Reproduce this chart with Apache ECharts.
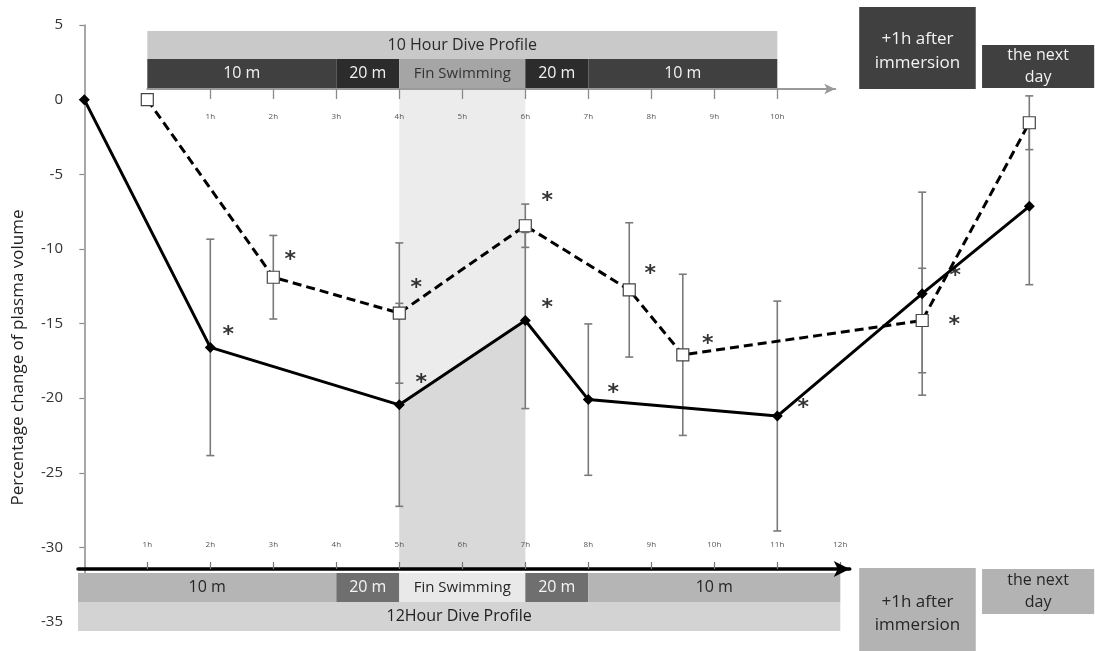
<!DOCTYPE html>
<html>
<head>
<meta charset="utf-8">
<script src="https://cdn.jsdelivr.net/npm/echarts@6/dist/echarts.min.js"></script>
<style>
  html, body { margin: 0; padding: 0; background: #ffffff; }
  #chart { width: 1095px; height: 651px; }
</style>
</head>
<body>
<div id="chart"></div>
<script>
// ---- Data -------------------------------------------------------------
// Positions are hours along the 12-hour dive timeline; the 10-hour dive
// starts one hour into it. The last two points are the post-dive samples.
const TIME_12H = [0, 2, 5, 7, 8, 11, 13.3, 15];
const MEAN_12H = [0, -16.6, -20.45, -14.8, -20.1, -21.2, -13.0, -7.15];
const SD_12H   = [0, 7.25, 6.8, 5.9, 5.07, 7.7, 6.8, 5.25];
const SIG_12H  = [0, 1, 1, 1, 1, 1, 1, 0];

const TIME_10H = [1, 3, 5, 7, 8.65, 9.5, 13.3, 15];
const MEAN_10H = [0, -11.9, -14.3, -8.45, -12.75, -17.1, -14.8, -1.55];
const SD_10H   = [0, 2.8, 4.7, 1.45, 4.5, 5.4, 3.5, 1.8];
const SIG_10H  = [0, 1, 1, 1, 1, 1, 1, 0];

// Dive stages (depth / activity) for each profile
const STAGE_NAMES     = ['10 m', '20 m', 'Fin Swimming', '20 m', '10 m'];
const STAGE_START_12H = [0, 4, 5, 7, 8];
const STAGE_END_12H   = [4, 5, 7, 8, 12];
const STAGE_START_10H = [0, 3, 4, 6, 7];
const STAGE_END_10H   = [3, 4, 6, 7, 10];
const DIVE_10H_OFFSET = 1;

const PROFILE_TITLES = ['10 Hour Dive Profile', '12Hour Dive Profile'];
const PROFILE_HOURS  = [10, 12];

const TICKS_10H = [1, 2, 3, 4, 5, 6, 7, 8, 9, 10];
const TICKS_12H = [1, 2, 3, 4, 5, 6, 7, 8, 9, 10, 11, 12];

const POST_NAMES = ['+1h after\nimmersion', 'the next\nday'];
const POST_START = [12.3, 14.25];
const POST_END   = [14.15, 16.03];

const Y_TICKS = { min: -35, max: 5, step: 5 };
const Y_NAME = 'Percentage change of plasma volume';

// ---- Layout & style ---------------------------------------------------
const FONT_FAMILY = "'Open Sans', 'Noto Sans', sans-serif";
const LAYOUT = {
  left: 78, top: 25, bottom: 29,
  pxPerHour: 63, xMin: -0.1, xMax: 15.6,
  topAxisY: 89, bottomAxisY: 569,
  bottomAxisMax: 12.15, topAxisMax: 10.92
};
const TOP_ROWS = { title: [31, 59], stage: [59, 88], post: [[7, 89], [45, 88]] };
const BOTTOM_ROWS = { stage: [573, 602], title: [602, 631], post: [[568, 660], [569, 614]] };
const STAGE_FONT = [16, 16, 15, 16, 16];
const POST_FONT = [17, 16];
const STAGE_FILL_TOP = ['#404040', '#2c2c2c', '#a5a5a5', '#2c2c2c', '#404040'];
const STAGE_TEXT_TOP = ['#f2f2f2', '#f2f2f2', '#333333', '#f2f2f2', '#f2f2f2'];
const STAGE_FILL_BOTTOM = ['#b5b5b5', '#6f6f6f', '#e9e9e9', '#6f6f6f', '#b5b5b5'];
const STAGE_TEXT_BOTTOM = ['#262626', '#f5f5f5', '#262626', '#f5f5f5', '#262626'];
// asterisk offsets (px) from their data point
const STAR_OFFSET_12H = [null, [18, -17], [22, -27], [22, -17], [25, -11], [26, -13], [33, -22], null];
const STAR_OFFSET_10H = [null, [17, -22], [17, -30], [22, -29], [21, -21], [25, -16], [32, 0], null];
const STAR_GLYPH_DY = 5;

// ---- Helpers ----------------------------------------------------------
const mainWidth = (LAYOUT.xMax - LAYOUT.xMin) * LAYOUT.pxPerHour;
const gridLeftFor = (hour) => LAYOUT.left + (hour - LAYOUT.xMin) * LAYOUT.pxPerHour;
const pick = (v, i) => (Array.isArray(v) ? v[i] : v);

// Labelled boxes spanning [start, end] hours; a span starting at hour 0
// (or earlier) is drawn from the y axis.
function boxSeries(name, starts, ends, texts, rows, fills, colors, fontSize, lineHeight, textDy) {
  return {
    type: 'custom', name, xAxisIndex: 0, yAxisIndex: 0, clip: false, silent: true, z: 3,
    data: starts.map((s, i) => [s, ends[i]]),
    renderItem(params, api) {
      const i = params.dataIndex;
      const cs = params.coordSys;
      const xa = api.value(0) <= 0 ? cs.x : api.coord([api.value(0), 0])[0];
      const xb = api.coord([api.value(1), 0])[0];
      const row = Array.isArray(rows[0]) ? rows[i] : rows;
      const fs = pick(fontSize, i);
      const lh = pick(lineHeight, i) || Math.round(fs * 1.35);
      return {
        type: 'rect',
        shape: { x: xa, y: row[0], width: xb - xa, height: row[1] - row[0] },
        style: { fill: pick(fills, i) },
        textContent: {
          style: {
            text: texts[i], fill: pick(colors, i), fontSize: fs, fontFamily: FONT_FAMILY,
            align: 'center', verticalAlign: 'middle', lineHeight: lh
          }
        },
        textConfig: { position: 'inside', offset: [0, pick(textDy, i) || 0] }
      };
    }
  };
}

function errorBarSeries(times, means, sds, z) {
  const data = [];
  times.forEach((t, i) => { if (sds[i] > 0) data.push([t, means[i] - sds[i], means[i] + sds[i]]); });
  return {
    type: 'custom', silent: true, z, clip: false, data,
    renderItem(params, api) {
      const lo = api.coord([api.value(0), api.value(1)]);
      const hi = api.coord([api.value(0), api.value(2)]);
      const w = 4;
      const st = { stroke: '#7a7a7a', lineWidth: 1.6 };
      return {
        type: 'group',
        children: [
          { type: 'line', shape: { x1: lo[0], y1: lo[1], x2: hi[0], y2: hi[1] }, style: st },
          { type: 'line', shape: { x1: lo[0] - w, y1: lo[1], x2: lo[0] + w, y2: lo[1] }, style: st },
          { type: 'line', shape: { x1: hi[0] - w, y1: hi[1], x2: hi[0] + w, y2: hi[1] }, style: st }
        ]
      };
    }
  };
}

function starData(times, means, sig, offsets) {
  const out = [];
  times.forEach((t, i) => {
    if (!sig[i]) return;
    const o = offsets[i];
    out.push({ value: [t, means[i]], label: { offset: [o[0], o[1] + STAR_GLYPH_DY] } });
  });
  return out;
}

const finStart = STAGE_START_12H[2];
const finEnd = STAGE_END_12H[2];
const stageStart10 = STAGE_START_10H.map(h => h + DIVE_10H_OFFSET);
const stageEnd10 = STAGE_END_10H.map(h => h + DIVE_10H_OFFSET);

// ---- Chart ------------------------------------------------------------
const chart = echarts.init(document.getElementById('chart'), null, { renderer: 'canvas' });

const option = {
  animation: false,
  backgroundColor: '#ffffff',
  textStyle: { fontFamily: FONT_FAMILY },
  grid: [
    { left: LAYOUT.left, top: LAYOUT.top, width: mainWidth, height: 651 - LAYOUT.top - LAYOUT.bottom,
      containLabel: false, outerBoundsMode: 'none' },
    { left: gridLeftFor(LAYOUT.xMin), top: LAYOUT.bottomAxisY - 10, height: 10,
      width: (LAYOUT.bottomAxisMax - LAYOUT.xMin) * LAYOUT.pxPerHour,
      containLabel: false, outerBoundsMode: 'none' },
    { left: gridLeftFor(DIVE_10H_OFFSET), top: LAYOUT.topAxisY - 10, height: 10,
      width: LAYOUT.topAxisMax * LAYOUT.pxPerHour,
      containLabel: false, outerBoundsMode: 'none' }
  ],
  xAxis: [
    { gridIndex: 0, type: 'value', min: LAYOUT.xMin, max: LAYOUT.xMax, show: false },
    {
      gridIndex: 1, type: 'value', min: LAYOUT.xMin, max: LAYOUT.bottomAxisMax, position: 'bottom', z: 10,
      axisLine: { show: true, lineStyle: { color: '#000000', width: 3.5 }, symbol: ['none', 'arrow'], symbolSize: [12, 16] },
      axisTick: { show: true, inside: true, length: 7, lineStyle: { color: '#777777', width: 1.2 }, customValues: TICKS_12H },
      axisLabel: { show: true, inside: true, margin: 20, fontSize: 8, color: '#555555', customValues: TICKS_12H,
        formatter: v => v + 'h' },
      splitLine: { show: false }
    },
    {
      gridIndex: 2, type: 'value', min: 0, max: LAYOUT.topAxisMax, position: 'bottom', z: 10,
      axisLine: { show: true, lineStyle: { color: '#9a9a9a', width: 2 }, symbol: ['none', 'arrow'], symbolSize: [8, 11] },
      axisTick: { show: true, inside: false, length: 10, lineStyle: { color: '#8a8a8a', width: 1.3 }, customValues: TICKS_10H },
      axisLabel: { show: true, margin: 24, fontSize: 8, color: '#555555', customValues: TICKS_10H,
        formatter: v => v + 'h' },
      splitLine: { show: false }
    }
  ],
  yAxis: [
    {
      gridIndex: 0, type: 'value', min: Y_TICKS.min, max: Y_TICKS.max, interval: Y_TICKS.step,
      name: Y_NAME, nameLocation: 'middle', nameGap: 51, nameRotate: 90,
      nameTextStyle: { fontSize: 17, color: '#222222', padding: [0, 68, 0, 0] },
      axisLine: { show: true, lineStyle: { color: '#8a8a8a', width: 1.5 } },
      axisTick: { show: true, length: 5, lineStyle: { color: '#8a8a8a', width: 1.2 } },
      axisLabel: { fontSize: 15, color: '#333333', margin: 15 },
      splitLine: { show: false }
    },
    { gridIndex: 1, type: 'value', min: 0, max: 1, show: false },
    { gridIndex: 2, type: 'value', min: 0, max: 1, show: false }
  ],
  series: [
    // fin-swimming period band
    {
      type: 'custom', silent: true, z: 1, clip: false, data: [[finStart, finEnd]],
      renderItem(params, api) {
        const xa = api.coord([api.value(0), 0])[0];
        const xb = api.coord([api.value(1), 0])[0];
        return { type: 'rect',
          shape: { x: xa, y: LAYOUT.topAxisY + 1, width: xb - xa, height: LAYOUT.bottomAxisY - LAYOUT.topAxisY - 1 },
          style: { fill: '#ececec' } };
      }
    },
    // shaded area under the 12 h curve during fin swimming
    {
      type: 'custom', silent: true, z: 2, clip: false, data: [[0, 0]],
      renderItem(params, api) {
        const pts = [];
        TIME_12H.forEach((t, i) => {
          if (t >= finStart && t <= finEnd) pts.push(api.coord([t, MEAN_12H[i]]));
        });
        if (!pts.length) return null;
        pts.push([pts[pts.length - 1][0], LAYOUT.bottomAxisY]);
        pts.push([pts[0][0], LAYOUT.bottomAxisY]);
        return { type: 'polygon', shape: { points: pts }, style: { fill: '#d9d9d9' } };
      }
    },
    // 10-hour profile bars
    boxSeries('10h title', [DIVE_10H_OFFSET], [DIVE_10H_OFFSET + PROFILE_HOURS[0]], [PROFILE_TITLES[0]],
      TOP_ROWS.title, '#c9c9c9', '#2a2a2a', 16),
    boxSeries('10h stages', stageStart10, stageEnd10, STAGE_NAMES, TOP_ROWS.stage,
      STAGE_FILL_TOP, STAGE_TEXT_TOP, STAGE_FONT),
    boxSeries('top post', POST_START, POST_END, POST_NAMES, TOP_ROWS.post,
      '#404040', '#f2f2f2', POST_FONT, [24, 22], [3, 0]),
    // 12-hour profile bars
    boxSeries('12h stages', STAGE_START_12H, STAGE_END_12H, STAGE_NAMES, BOTTOM_ROWS.stage,
      STAGE_FILL_BOTTOM, STAGE_TEXT_BOTTOM, STAGE_FONT),
    boxSeries('12h title', [LAYOUT.xMin], [PROFILE_HOURS[1]], [PROFILE_TITLES[1]],
      BOTTOM_ROWS.title, '#d3d3d3', '#222222', 16),
    boxSeries('bottom post', POST_START, POST_END, POST_NAMES, BOTTOM_ROWS.post,
      '#b3b3b3', '#262626', POST_FONT, [23, 22]),
    // error bars
    errorBarSeries(TIME_12H, MEAN_12H, SD_12H, 4),
    errorBarSeries(TIME_10H, MEAN_10H, SD_10H, 4),
    // 10-hour dive
    {
      type: 'line', name: '10 Hour Dive', z: 5,
      data: TIME_10H.map((t, i) => [t, MEAN_10H[i]]),
      symbol: 'rect', symbolSize: 12,
      lineStyle: { color: '#000000', width: 3, type: [9, 5] },
      itemStyle: { color: '#ffffff', borderColor: '#444444', borderWidth: 1.2 },
      emphasis: { disabled: true }
    },
    // 12-hour dive
    {
      type: 'line', name: '12 Hour Dive', z: 6,
      data: TIME_12H.map((t, i) => [t, MEAN_12H[i]]),
      symbol: 'diamond', symbolSize: 11,
      lineStyle: { color: '#000000', width: 3 },
      itemStyle: { color: '#000000' },
      emphasis: { disabled: true }
    },
    // significance markers
    {
      type: 'scatter', z: 7, silent: true, symbolSize: 1, itemStyle: { color: 'rgba(0,0,0,0)' },
      data: starData(TIME_12H, MEAN_12H, SIG_12H, STAR_OFFSET_12H)
        .concat(starData(TIME_10H, MEAN_10H, SIG_10H, STAR_OFFSET_10H)),
      label: { show: true, position: 'inside', formatter: '*', fontSize: 22, fontWeight: 'bold',
        color: '#000000', fontFamily: 'DejaVu Sans' },
      emphasis: { disabled: true }
    }
  ]
};

chart.setOption(option);
</script>
</body>
</html>
